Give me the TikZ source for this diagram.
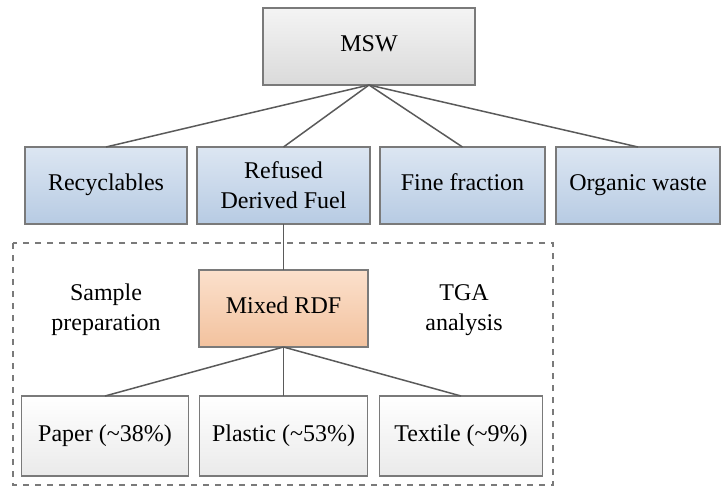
\documentclass[tikz,border=0pt]{standalone}
\usepackage{fontspec}
\setmainfont{Liberation Serif}
\usetikzlibrary{positioning}

\definecolor{boxline}{HTML}{7A7A7A}
\definecolor{linkline}{HTML}{5A5A5A}
\definecolor{greytop}{HTML}{F4F4F4}
\definecolor{greybot}{HTML}{DADADA}
\definecolor{bluetop}{HTML}{DCE6F2}
\definecolor{bluebot}{HTML}{B7CBE3}
\definecolor{orangetop}{HTML}{FBE0CC}
\definecolor{orangebot}{HTML}{F3C29E}
\definecolor{whitebot}{HTML}{EAEAEA}

\begin{document}
\begin{tikzpicture}[
    x=0.5pt, y=-0.5pt,
    every node/.style={font=\fontsize{12}{15}\selectfont, outer sep=0pt},
    box/.style={rectangle, draw=boxline, line width=0.9pt, minimum height=38.5pt, align=center, inner sep=2pt, text height=1.6ex, text depth=0.5ex},
    topbox/.style={box, top color=greytop, bottom color=greybot},
    wastebox/.style={box, top color=bluetop, bottom color=bluebot},
    rdfbox/.style={box, top color=orangetop, bottom color=orangebot},
    partbox/.style={box, minimum height=40pt, top color=white, bottom color=whitebot},
    link/.style={draw=linkline, line width=0.75pt},
    dashbox/.style={draw=boxline, dashed, line width=0.6pt},
    note/.style={align=center}
]
    \useasboundingbox (0,0) rectangle (721,487);

    \node[topbox, minimum width=106pt] (msw) at (369,46.5) {MSW};

    \node[wastebox, minimum width=86.5pt, text height=, text depth=] (rdf) at (283.5,185.5) {Refused\\Derived Fuel};
    \node[wastebox, minimum width=81pt, left=5pt of rdf] (recyc) {Recyclables};
    \node[wastebox, minimum width=82.5pt, right=5pt of rdf] (fine) {Fine fraction};
    \node[wastebox, minimum width=82pt, right=5.5pt of fine] (organic) {Organic waste};

    \draw[dashbox] (13,243) rectangle (553,485);

    \node[rdfbox, minimum width=84.5pt, below=23pt of rdf] (mixed) {Mixed RDF};
    \node[note] (prep) at (106,310) {Sample\\preparation};
    \node[note] (tga) at (464,310) {TGA\\analysis};

    \node[partbox, minimum width=84pt, below=24.5pt of mixed] (plastic) {Plastic (\textasciitilde53\%)};
    \node[partbox, minimum width=83.5pt, left=5.5pt of plastic] (paper) {Paper (\textasciitilde38\%)};
    \node[partbox, minimum width=81.5pt, right=6pt of plastic] (textile) {Textile (\textasciitilde9\%)};

    \draw[link] (msw.south) -- (recyc.north);
    \draw[link] (msw.south) -- (rdf.north);
    \draw[link] (msw.south) -- (fine.north);
    \draw[link] (msw.south) -- (organic.north);
    \draw[link] (rdf.south) -- (mixed.north);
    \draw[link] (mixed.south) -- (paper.north);
    \draw[link] (mixed.south) -- (plastic.north);
    \draw[link] (mixed.south) -- (textile.north);
\end{tikzpicture}
\end{document}
